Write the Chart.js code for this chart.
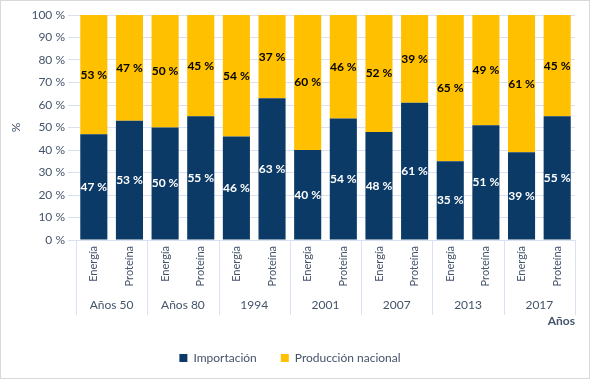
<!DOCTYPE html>
<html>
<head>
<meta charset="utf-8">
<script src="https://cdn.jsdelivr.net/npm/chart.js@4"></script>
<style>
  html, body { margin: 0; padding: 0; background: #fff; }
  #wrap { width: 588px; height: 377px; border: 1px solid #d9d9d9; }
</style>
</head>
<body>
<div id="wrap"><canvas id="chart" width="588" height="377"></canvas></div>
<script>
        // Data
        const groups = ['Años 50', 'Años 80', '1994', '2001', '2007', '2013', '2017'];
        const items = ['Energía', 'Proteína'];
        const importacion = [47, 53, 50, 55, 46, 63, 40, 54, 48, 61, 35, 51, 39, 55];
        const produccion = [53, 47, 50, 45, 54, 37, 60, 46, 52, 39, 65, 49, 61, 45];
        const yTicks = [0, 10, 20, 30, 40, 50, 60, 70, 80, 90, 100];

        const labels = [];
        groups.forEach(() => items.forEach(it => labels.push(it)));

        const textColor = '#44546a';
        const gridColor = '#d9e1f2';
        const font = 'Lato, "Open Sans", sans-serif';

        // Separators between groups under the axis
        const groupLines = {
            id: 'groupLines',
            afterDraw(chart) {
                const { ctx, chartArea } = chart;
                const step = (chartArea.right - chartArea.left) / groups.length;
                ctx.save();
                ctx.strokeStyle = gridColor;
                ctx.lineWidth = 1;
                for (let i = 0; i <= groups.length; i++) {
                    const x = Math.round(chartArea.left + i * step) + 0.5;
                    ctx.beginPath();
                    ctx.moveTo(x, chartArea.bottom);
                    ctx.lineTo(x, chartArea.bottom + 75);
                    ctx.stroke();
                }
                ctx.restore();
            }
        };

        // Values inside the bars
        const barValues = {
            id: 'barValues',
            afterDatasetsDraw(chart) {
                const { ctx } = chart;
                ctx.save();
                ctx.font = 'bold 12px ' + font;
                ctx.textAlign = 'center';
                ctx.textBaseline = 'middle';
                chart.data.datasets.forEach((ds, i) => {
                    chart.getDatasetMeta(i).data.forEach((bar, j) => {
                        const { x, y, base } = bar.getProps(['x', 'y', 'base'], true);
                        ctx.fillStyle = i === 0 ? '#ffffff' : '#000000';
                        ctx.fillText(ds.data[j] + ' %', x, (y + base) / 2);
                    });
                });
                ctx.restore();
            }
        };

        new Chart(document.getElementById('chart'), {
            type: 'bar',
            data: {
                labels: labels,
                datasets: [
                    { label: 'Importación', data: importacion, backgroundColor: '#0b3a66', barPercentage: 0.76, categoryPercentage: 1 },
                    { label: 'Producción nacional', data: produccion, backgroundColor: '#ffc000', barPercentage: 0.76, categoryPercentage: 1 }
                ]
            },
            options: {
                responsive: false,
                animation: false,
                layout: { padding: { top: 14, right: 14, left: 4, bottom: 4 } },
                scales: {
                    x: {
                        stacked: true,
                        grid: { display: false, drawTicks: false, tickLength: 0 },
                        border: { color: gridColor },
                        ticks: {
                            color: textColor,
                            font: { family: font, size: 11 },
                            minRotation: 90,
                            maxRotation: 90,
                            autoSkip: false,
                            padding: 6
                        },
                        afterFit: s => { s.height = 52; }
                    },
                    x2: {
                        type: 'category',
                        labels: groups,
                        position: 'bottom',
                        grid: { display: false, drawTicks: false, tickLength: 0 },
                        border: { display: false },
                        ticks: { color: textColor, font: { family: font, size: 12 }, padding: 6 },
                        title: {
                            display: true,
                            text: 'Años',
                            align: 'end',
                            color: textColor,
                            font: { family: font, size: 12, weight: 'bold' },
                            padding: { top: 2, bottom: 0 }
                        },
                        afterFit: s => { s.height = 36; }
                    },
                    y: {
                        stacked: true,
                        min: 0,
                        max: 100,
                        afterBuildTicks: s => { s.ticks = yTicks.map(v => ({ value: v })); },
                        grid: { color: gridColor },
                        border: { display: false },
                        ticks: {
                            color: textColor,
                            font: { family: font, size: 12 },
                            callback: v => v + ' %'
                        },
                        title: {
                            display: true,
                            text: '%',
                            color: textColor,
                            font: { family: font, size: 12 }
                        },
                        afterFit: s => { s.width = 71; }
                    }
                },
                plugins: {
                    legend: {
                        position: 'bottom',
                        labels: {
                            color: textColor,
                            font: { family: font, size: 12 },
                            boxWidth: 8,
                            boxHeight: 8,
                            padding: 24
                        }
                    },
                    tooltip: { enabled: false }
                }
            },
            plugins: [groupLines, barValues]
        });
</script>
</body>
</html>
